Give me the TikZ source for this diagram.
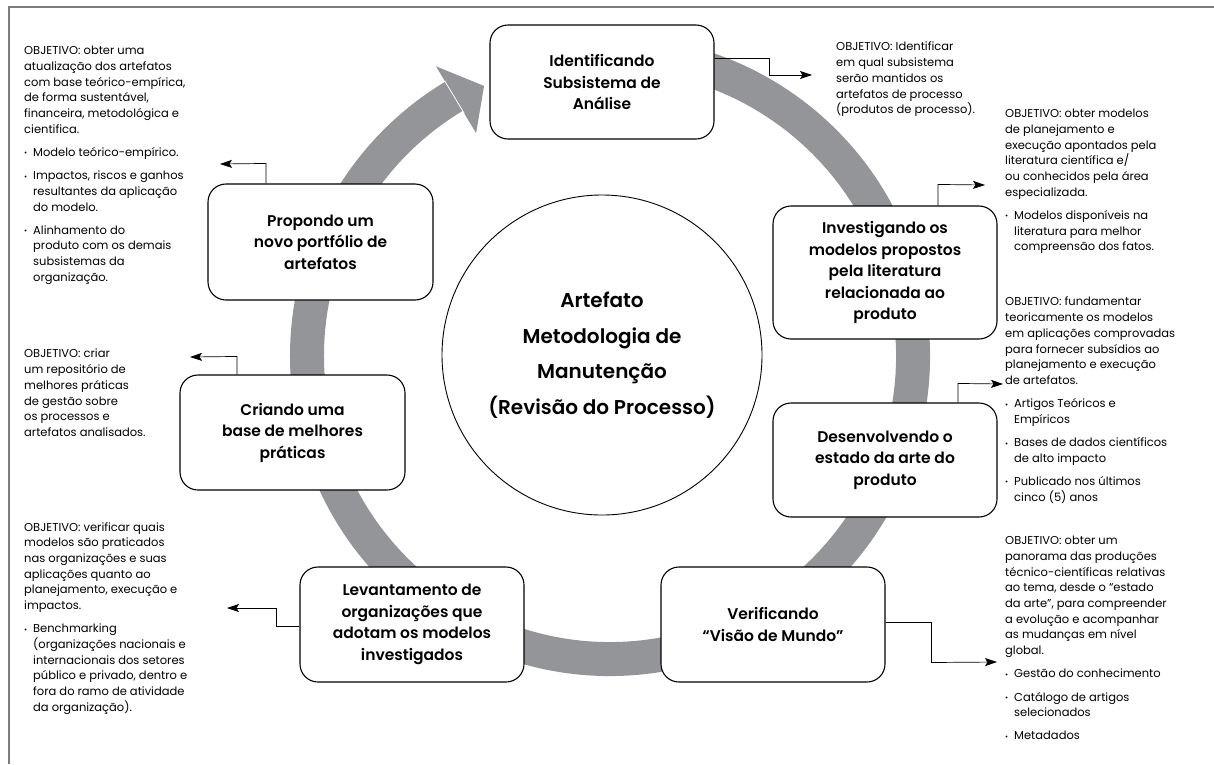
\documentclass[tikz,border=0pt]{standalone}
\usepackage{fontspec}
\setmainfont{Poppins}
\newfontfamily\titlefont{Poppins SemiBold}
\usetikzlibrary{arrows.meta}
\definecolor{ringgray}{RGB}{148,149,153}
\definecolor{framegray}{RGB}{125,125,125}
\newcommand{\bl}{\makebox[9pt][l]{\fontsize{7.5}{7.5}\selectfont\raisebox{0.5pt}{•}}}
\newcommand{\ind}{\hspace*{9pt}}

\begin{document}
\begin{tikzpicture}[x=1pt, y=-1pt,
        stage/.style={draw, line width=1.1pt, fill=white, rounded corners=18pt, minimum width=224pt, minimum height=115pt, align=center, inner sep=2pt, font=\titlefont\fontsize{15.5}{21.5}\selectfont},
        objtext/.style={anchor=north west, inner sep=0pt, align=left, font=\fontsize{11.5}{15.7}\selectfont},
        link/.style={draw, line width=0.7pt, -{Stealth[length=12pt, width=8pt, inset=2.5pt]}},
        ring/.style={draw=ringgray, line width=34pt}
        ]

        \useasboundingbox (0,0) rectangle (1214,764);

        % Frame
        \draw[framegray, line width=1.5pt] (9,764) -- (9,7) -- (1214,7);

        % Ring
        \coordinate (ringc) at (610,356);
        \draw[ring] ([shift={(100:303pt)}]ringc) arc[start angle=100, end angle=-239, radius=303pt];
        \fill[ringgray] ([shift={(121:338pt)}]ringc) -- ([shift={(115:298pt)}]ringc) -- ([shift={(121:260pt)}]ringc) -- cycle;
        \draw[white, line width=0.8pt] ([shift={(121:321pt)}]ringc) -- ([shift={(121:283pt)}]ringc);

        % Center
        \node[circle, draw, line width=0.9pt, fill=white, minimum size=320pt, align=center,
            font=\titlefont\fontsize{20}{35.5}\selectfont] (artefato) at (602,355)
            {Artefato\\Metodologia de\\Manutenção\\(Revisão do Processo)};

        % Stages
        \node[stage, minimum height=114pt] (ident) at (602,82) {Identificando\\Subsistema de\\Análise};
        \node[stage, minimum height=133pt] (invest) at (885,272.5) {Investigando os\\modelos propostos\\pela literatura\\relacionada ao\\produto};
        \node[stage, minimum height=114pt] (desenv) at (885,460) {Desenvolvendo o\\estado da arte do\\produto};
        \node[stage] (verif) at (773,624.5) {Verificando\\“Visão de Mundo”};
        \node[stage] (levant) at (412,624.5) {Levantamento de\\organizações que\\adotam os modelos\\investigados};
        \node[stage, minimum width=225pt] (criando) at (292.5,432.5) {Criando uma\\base de melhores\\práticas};
        \node[stage, minimum width=225pt, minimum height=116pt] (propondo) at (320.5,242) {Propondo um\\novo portfólio de\\artefatos};

        % Objectives
        \node[objtext] (objpropondo) at (24,46) {OBJETIVO: obter uma\\atualização dos artefatos\\com base teórico-empírica,\\de forma sustentável,\\financeira, metodológica e\\cientifica.\\[7.5pt]
            \bl Modelo teórico-empírico.\\[7.5pt]
            \bl Impactos, riscos e ganhos\\\ind resultantes da aplicação\\\ind do modelo.\\[7.5pt]
            \bl Alinhamento do\\\ind produto com os demais\\\ind subsistemas da\\\ind organização.};
        \node[objtext] (objcriando) at (24,349) {OBJETIVO: criar\\um repositório de\\melhores práticas\\de gestão sobre\\os processos e\\artefatos analisados.};
        \node[objtext] (objlevant) at (24,522) {OBJETIVO: verificar quais\\modelos são praticados\\nas organizações e suas\\aplicações quanto ao\\planejamento, execução e\\impactos.\\[7.5pt]
            \bl Benchmarking\\\ind (organizações nacionais e\\\ind internacionais dos setores\\\ind público e privado, dentro e\\\ind fora do ramo de atividade\\\ind da organização).};
        \node[objtext] (objident) at (836,42) {OBJETIVO: Identificar\\em qual subsistema\\serão mantidos os\\artefatos de processo\\(produtos de processo).};
        \node[objtext] (objinvest) at (1005,109) {OBJETIVO: obter modelos\\de planejamento e\\execução apontados pela\\literatura científica e/\\ou conhecidos pela área\\especializada.\\[7.5pt]
            \bl Modelos disponíveis na\\\ind literatura para melhor\\\ind compreensão dos fatos.};
        \node[objtext] (objdesenv) at (1005,297) {OBJETIVO: fundamentar\\teoricamente os modelos\\em aplicações comprovadas\\para fornecer subsídios ao\\planejamento e execução\\de artefatos.\\[7.5pt]
            \bl Artigos Teóricos e\\\ind Empíricos\\[7.5pt]
            \bl Bases de dados científicos\\\ind de alto impacto\\[7.5pt]
            \bl Publicado nos últimos\\\ind cinco (5) anos};
        \node[objtext] (objverif) at (1005,536) {OBJETIVO: obter um\\panorama das produções\\técnico-científicas relativas\\ao tema, desde o “estado\\da arte”, para compreender\\a evolução e acompanhar\\as mudanças em nível\\global.\\[7.5pt]
            \bl Gestão do conhecimento\\[7.5pt]
            \bl Catálogo de artigos\\\ind selecionados\\[7.5pt]
            \bl Metadados};

        % Links
        \coordinate (tident) at (812,75);
        \coordinate (tinvest) at (985,185);
        \coordinate (tdesenv) at (1003,384);
        \coordinate (tverif) at (997,662);
        \coordinate (tlevant) at (227,608);
        \coordinate (tcriando) at (190,357);
        \coordinate (tpropondo) at (220,164);
        \draw[link] ([yshift=24pt]ident.east) -| ++(55,17) -- (tident);
        \draw[link] ([xshift=53pt]invest.north) -- ++(0,-21) -- (tinvest);
        \draw[link] ([xshift=73pt]desenv.north) -- ++(0,-19) -- (tdesenv);
        \draw[link] ([yshift=2pt]verif.east) -| ++(46,40) -- (tverif);
        \draw[link] ([yshift=-1.5pt]levant.west) -| ++(-23,-18) -- (tlevant);
        \draw[link] ([xshift=-55.5pt]criando.north) -- ++(0,-18) -- (tcriando);
        \draw[link] ([xshift=-54.5pt]propondo.north) -- ++(0,-20) -- (tpropondo);

    \end{tikzpicture}
\end{document}
